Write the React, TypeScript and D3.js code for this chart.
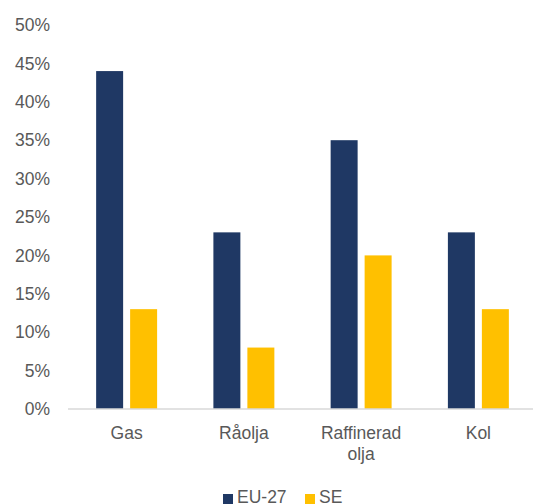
import React from "react";
import * as d3 from "d3";

const categories: string[][] = [["Gas"], ["Råolja"], ["Raffinerad", "olja"], ["Kol"]];
const seriesNames = ["EU-27", "SE"];
const eu27 = [44, 23, 35, 23];
const se = [13, 8, 20, 13];
const yTicks = [0, 5, 10, 15, 20, 25, 30, 35, 40, 45, 50];
const colors = ["#1F3864", "#FFC000"];

export default function App() {
  const W = 533, H = 504;
  const left = 68, right = 537, top = 25, bottom = 409;
  const keys = categories.map((c) => c.join(" "));
  const x0 = d3.scaleBand<string>().domain(keys).range([left, right]).paddingInner(0.48).paddingOuter(0.24);
  const x1 = d3.scaleBand<string>().domain(seriesNames).range([0, x0.bandwidth()]).paddingInner(0.2059);
  const y = d3.scaleLinear().domain([0, 50]).range([bottom, top]);
  const data = [eu27, se];
  const font = "'Liberation Sans', Arial, sans-serif";
  const textColor = "#595959";
  return (
    <svg width={W} height={H} style={{ position: "absolute", left: 0, top: 0 }} fontFamily={font}>
      <rect width={W} height={H} fill="#fff" />
      {yTicks.map((t) => (
        <text key={t} x={50} y={y(t)} dy="0.35em" textAnchor="end" fontSize={17.5} fill={textColor}>
          {t}%
        </text>
      ))}
      {keys.map((k, i) =>
        seriesNames.map((s, j) => (
          <rect
            key={k + s}
            x={(x0(k) as number) + (x1(s) as number)}
            y={y(data[j][i])}
            width={x1.bandwidth()}
            height={y(0) - y(data[j][i])}
            fill={colors[j]}
          />
        ))
      )}
      <line x1={left} x2={533} y1={bottom} y2={bottom} stroke="#D9D9D9" strokeWidth={1.5} />
      {categories.map((lines, i) => (
        <text key={i} textAnchor="middle" fontSize={17.5} fill={textColor}>
          {lines.map((ln, li) => (
            <tspan key={li} x={(x0(keys[i]) as number) + x0.bandwidth() / 2} y={439 + li * 21}>
              {ln}
            </tspan>
          ))}
        </text>
      ))}
      <g>
        <rect x={223} y={494} width={10} height={10} fill={colors[0]} />
        <text x={237} y={503} fontSize={17.5} fill={textColor}>{seriesNames[0]}</text>
        <rect x={305} y={494} width={10} height={10} fill={colors[1]} />
        <text x={319} y={503} fontSize={17.5} fill={textColor}>{seriesNames[1]}</text>
      </g>
    </svg>
  );
}
